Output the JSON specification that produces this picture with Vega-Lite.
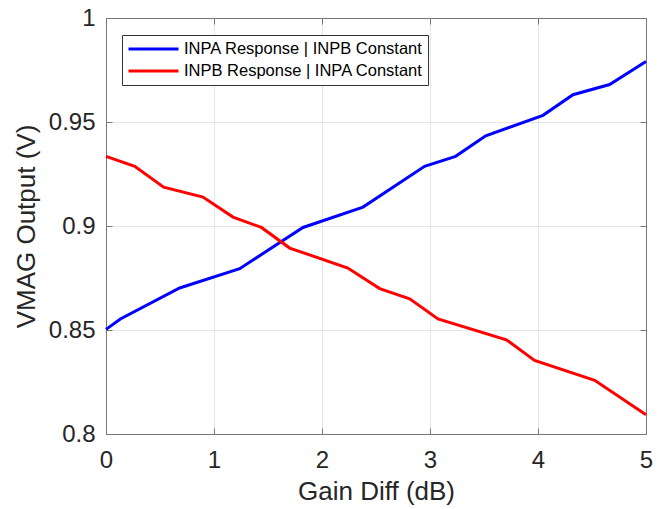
{
  "$schema": "https://vega.github.io/schema/vega-lite/v6.json",
  "width": 540,
  "height": 416,
  "autosize": "none",
  "padding": {"left": 106, "top": 18, "right": 18, "bottom": 75},
  "background": "white",
  "config": {
    "font": "Liberation Sans",
    "view": {"stroke": null},
    "axis": {
      "domainColor": "#777777",
      "tickColor": "#777777",
      "gridColor": "#e6e6e6",
      "gridWidth": 1,
      "labelColor": "#262626",
      "titleColor": "#262626",
      "labelFont": "Liberation Sans",
      "titleFont": "Liberation Sans",
      "titleFontWeight": "normal"
    },
    "legend": {
      "orient": "none",
      "legendX": 16,
      "legendY": 17,
      "symbolType": "stroke",
      "symbolSize": 2500,
      "symbolStrokeWidth": 3,
      "clipHeight": 18,
      "rowPadding": 4,
      "padding": 5,
      "labelFontSize": 16.5,
      "labelLimit": 0,
      "labelOffset": 4,
      "labelColor": "#000000",
      "labelFont": "Liberation Sans",
      "strokeColor": "#333333",
      "fillColor": "white",
      "cornerRadius": 0
    }
  },
  "data": {
    "values": [
      {"gain": 0, "vmag": 0.8503, "series": "INPA Response | INPB Constant"},
      {"gain": 0.133, "vmag": 0.8553, "series": "INPA Response | INPB Constant"},
      {"gain": 0.682, "vmag": 0.8702, "series": "INPA Response | INPB Constant"},
      {"gain": 1.238, "vmag": 0.8795, "series": "INPA Response | INPB Constant"},
      {"gain": 1.824, "vmag": 0.8993, "series": "INPA Response | INPB Constant"},
      {"gain": 2.38, "vmag": 0.9091, "series": "INPA Response | INPB Constant"},
      {"gain": 2.95, "vmag": 0.9287, "series": "INPA Response | INPB Constant"},
      {"gain": 3.237, "vmag": 0.9335, "series": "INPA Response | INPB Constant"},
      {"gain": 3.516, "vmag": 0.9434, "series": "INPA Response | INPB Constant"},
      {"gain": 4.046, "vmag": 0.9532, "series": "INPA Response | INPB Constant"},
      {"gain": 4.324, "vmag": 0.9631, "series": "INPA Response | INPB Constant"},
      {"gain": 4.663, "vmag": 0.968, "series": "INPA Response | INPB Constant"},
      {"gain": 5, "vmag": 0.9791, "series": "INPA Response | INPB Constant"},
      {"gain": 0, "vmag": 0.9335, "series": "INPB Response | INPA Constant"},
      {"gain": 0.266, "vmag": 0.9287, "series": "INPB Response | INPA Constant"},
      {"gain": 0.534, "vmag": 0.9187, "series": "INPB Response | INPA Constant"},
      {"gain": 0.898, "vmag": 0.9139, "series": "INPB Response | INPA Constant"},
      {"gain": 1.176, "vmag": 0.9043, "series": "INPB Response | INPA Constant"},
      {"gain": 1.439, "vmag": 0.8993, "series": "INPB Response | INPA Constant"},
      {"gain": 1.701, "vmag": 0.8894, "series": "INPB Response | INPA Constant"},
      {"gain": 2.239, "vmag": 0.8798, "series": "INPB Response | INPA Constant"},
      {"gain": 2.534, "vmag": 0.8699, "series": "INPB Response | INPA Constant"},
      {"gain": 2.812, "vmag": 0.865, "series": "INPB Response | INPA Constant"},
      {"gain": 3.074, "vmag": 0.8553, "series": "INPB Response | INPA Constant"},
      {"gain": 3.707, "vmag": 0.8453, "series": "INPB Response | INPA Constant"},
      {"gain": 3.968, "vmag": 0.8354, "series": "INPB Response | INPA Constant"},
      {"gain": 4.525, "vmag": 0.8258, "series": "INPB Response | INPA Constant"},
      {"gain": 5, "vmag": 0.8093, "series": "INPB Response | INPA Constant"}
    ]
  },
  "layer": [
    {
      "mark": {"type": "line", "strokeWidth": 3},
      "encoding": {
        "x": {
          "field": "gain",
          "type": "quantitative",
          "scale": {"domain": [0, 5], "nice": false, "zero": false},
          "axis": {
            "orient": "bottom",
            "values": [0, 1, 2, 3, 4, 5],
            "format": "~g",
            "grid": true,
            "tickSize": -6,
            "labelPadding": 20,
            "labelFontSize": 24,
            "labelFlush": false,
            "title": "Gain Diff (dB)",
            "titleFontSize": 26,
            "titlePadding": 6
          }
        },
        "y": {
          "field": "vmag",
          "type": "quantitative",
          "scale": {"domain": [0.8, 1], "nice": false, "zero": false},
          "axis": {
            "orient": "left",
            "values": [0.8, 0.85, 0.9, 0.95, 1],
            "format": "~g",
            "grid": true,
            "tickSize": -6,
            "labelPadding": 17,
            "labelFontSize": 24,
            "labelFlush": false,
            "title": "VMAG Output (V)",
            "titleFontSize": 26,
            "titlePadding": 9
          }
        },
        "color": {
          "field": "series",
          "type": "nominal",
          "scale": {
            "domain": ["INPA Response | INPB Constant", "INPB Response | INPA Constant"],
            "range": ["#0000ff", "#ff0000"]
          },
          "legend": {"title": null}
        }
      }
    },
    {
      "mark": {"type": "line", "opacity": 0},
      "encoding": {
        "x": {
          "field": "gain",
          "type": "quantitative",
          "axis": {
            "orient": "top",
            "values": [0, 1, 2, 3, 4, 5],
            "labels": false,
            "grid": false,
            "tickSize": -6,
            "title": null
          }
        },
        "y": {
          "field": "vmag",
          "type": "quantitative",
          "axis": {
            "orient": "right",
            "values": [0.8, 0.85, 0.9, 0.95, 1],
            "labels": false,
            "grid": false,
            "tickSize": -6,
            "title": null
          }
        },
        "detail": {"field": "series", "type": "nominal"}
      }
    }
  ],
  "resolve": {"axis": {"x": "independent", "y": "independent"}}
}
